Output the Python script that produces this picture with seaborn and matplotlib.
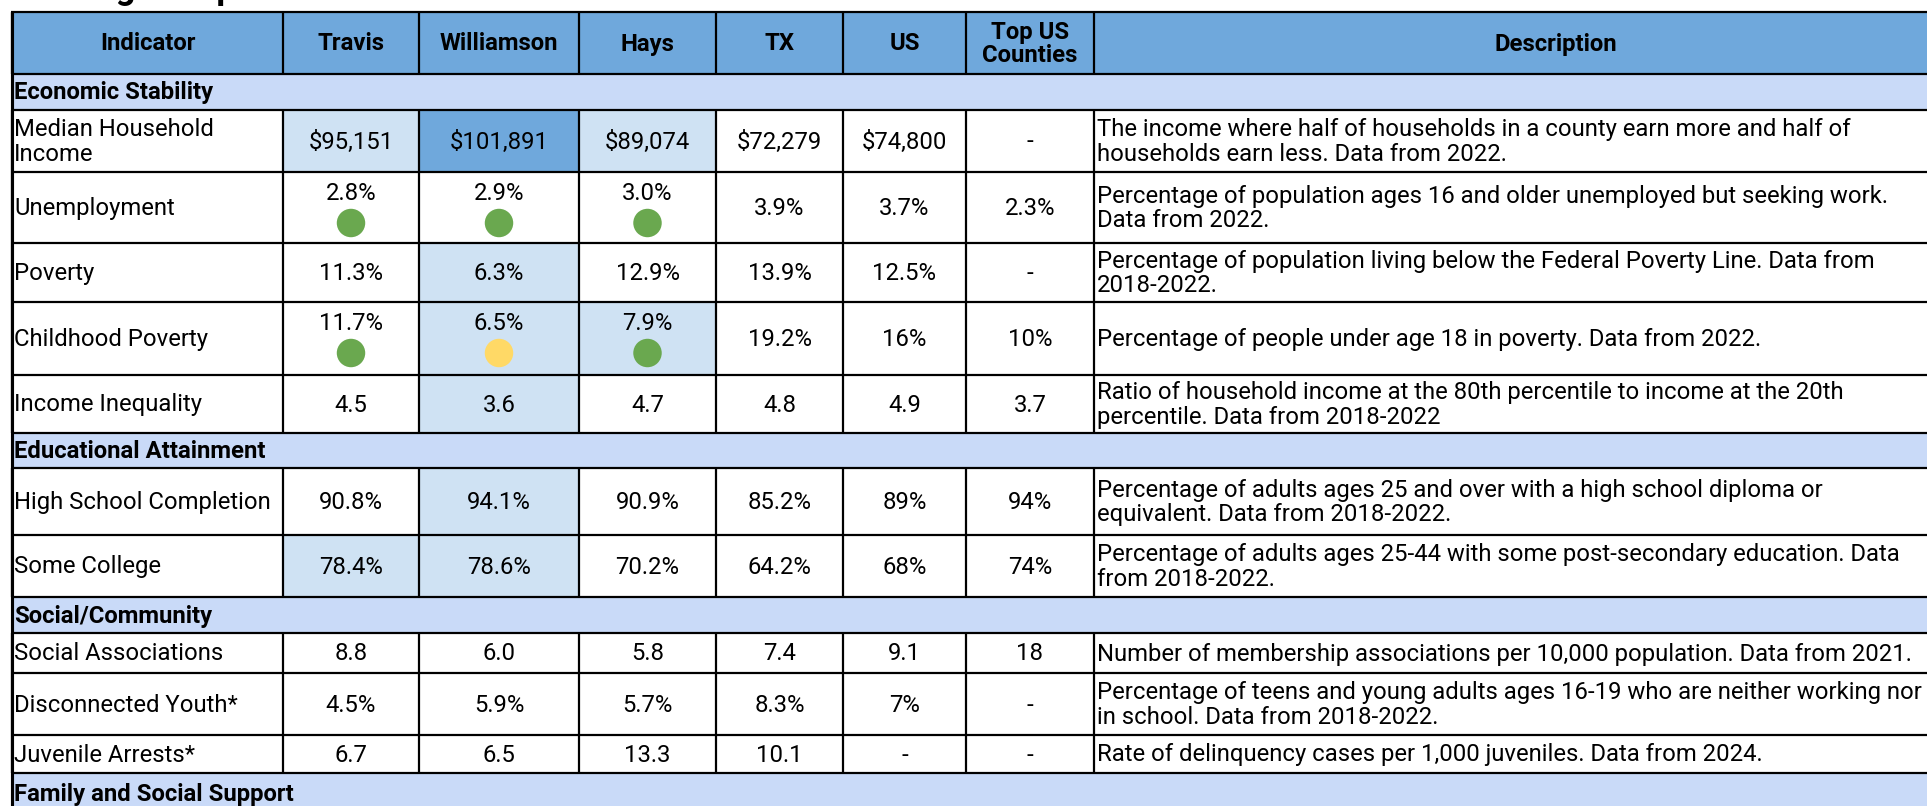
import matplotlib
matplotlib.use("Agg")
import matplotlib.pyplot as plt
from matplotlib.patches import Rectangle
import seaborn as sns
import pandas as pd

# ---------------- data ----------------
title = "Ranking Comparison"
columns = ["Indicator", "Travis", "Williamson", "Hays", "TX", "US", "Top US\nCounties", "Description"]
sections = ["Economic Stability", "Educational Attainment", "Social/Community", "Family and Social Support"]
indicators = ["Median Household\nIncome", "Unemployment", "Poverty", "Childhood Poverty", "Income Inequality",
              "High School Completion", "Some College",
              "Social Associations", "Disconnected Youth*", "Juvenile Arrests*"]
indicator_section = [0, 0, 0, 0, 0, 1, 1, 2, 2, 2]
travis = ["$95,151", "2.8%", "11.3%", "11.7%", "4.5", "90.8%", "78.4%", "8.8", "4.5%", "6.7"]
williamson = ["$101,891", "2.9%", "6.3%", "6.5%", "3.6", "94.1%", "78.6%", "6.0", "5.9%", "6.5"]
hays = ["$89,074", "3.0%", "12.9%", "7.9%", "4.7", "90.9%", "70.2%", "5.8", "5.7%", "13.3"]
tx = ["$72,279", "3.9%", "13.9%", "19.2%", "4.8", "85.2%", "64.2%", "7.4", "8.3%", "10.1"]
us = ["$74,800", "3.7%", "12.5%", "16%", "4.9", "89%", "68%", "9.1", "7%", "-"]
top_us = ["-", "2.3%", "-", "10%", "3.7", "94%", "74%", "18", "-", "-"]
descriptions = [
    "The income where half of households in a county earn more and half of\nhouseholds earn less. Data from 2022.",
    "Percentage of population ages 16 and older unemployed but seeking work.\nData from 2022.",
    "Percentage of population living below the Federal Poverty Line. Data from\n2018-2022.",
    "Percentage of people under age 18 in poverty. Data from 2022.",
    "Ratio of household income at the 80th percentile to income at the 20th\npercentile. Data from 2018-2022",
    "Percentage of adults ages 25 and over with a high school diploma or\nequivalent. Data from 2018-2022.",
    "Percentage of adults ages 25-44 with some post-secondary education. Data\nfrom 2018-2022.",
    "Number of membership associations per 10,000 population. Data from 2021.",
    "Percentage of teens and young adults ages 16-19 who are neither working nor\nin school. Data from 2018-2022.",
    "Rate of delinquency cases per 1,000 juveniles. Data from 2024.",
]
# highlight level per county cell: 0 none, 1 light, 2 strong
highlight_travis = [1, 0, 0, 0, 0, 0, 1, 0, 0, 0]
highlight_williamson = [2, 0, 1, 1, 1, 1, 1, 0, 0, 0]
highlight_hays = [1, 0, 0, 1, 0, 0, 0, 0, 0, 0]
# status dots
dot_indicator = ["Unemployment", "Unemployment", "Unemployment",
                 "Childhood Poverty", "Childhood Poverty", "Childhood Poverty"]
dot_county = ["Travis", "Williamson", "Hays", "Travis", "Williamson", "Hays"]
dot_status = ["good", "good", "good", "good", "fair", "good"]

# ---------------- layout / style ----------------
W, H = 1927, 806
col_edges = [12, 283, 419, 579, 716, 843, 966, 1094, 1990]
header_h = 62
section_h = [36, 35, 36, 40]
indicator_h = [62, 71, 59, 73, 58, 67, 62, 40, 62, 38]
HEADER_BG = "#6fa8dc"
SECTION_BG = "#c9daf8"
LIGHT_BG = "#cfe2f3"
STRONG_BG = "#6fa8dc"
DOT_COLORS = {"good": "#6aa84f", "fair": "#ffd966"}
FS = 17.2
LW = 1.6
LS = 1.06

sns.set_theme(style="white")
plt.rcParams["font.family"] = ["Roboto", "DejaVu Sans"]

fig = plt.figure(figsize=(W / 100, H / 100), dpi=100)
ax = fig.add_axes([0, 0, 1, 1])

# build row list
rows = [("header", None, header_h)]
for s_idx, s_name in enumerate(sections):
    rows.append(("section", s_idx, section_h[s_idx]))
    for i, sec in enumerate(indicator_section):
        if sec == s_idx:
            rows.append(("ind", i, indicator_h[i]))

values_by_col = [travis, williamson, hays, tx, us, top_us]
highlights = [highlight_travis, highlight_williamson, highlight_hays]
dot_rows = set(dot_indicator)

y = 12
row_tops = {}
hlines = []
for kind, idx, h in rows:
    top, bot = y, y + h
    hlines.append(top)
    if kind == "header":
        ax.add_patch(Rectangle((col_edges[0], top), col_edges[-1] - col_edges[0], h,
                               facecolor=HEADER_BG, edgecolor="none"))
        for c, name in enumerate(columns):
            cx = (col_edges[c] + col_edges[c + 1]) / 2
            if c == 7:
                cx = (col_edges[7] + 1927 + 90) / 2
            ax.text(cx, (top + bot) / 2 + 1, name, ha="center", va="center", fontsize=FS,
                    fontweight="bold", linespacing=1.0, color="black")
        for xe in col_edges:
            ax.plot([xe, xe], [top, bot], color="black", lw=LW, solid_capstyle="butt")
    elif kind == "section":
        ax.add_patch(Rectangle((col_edges[0], top), col_edges[-1] - col_edges[0], h,
                               facecolor=SECTION_BG, edgecolor="none"))
        ax.text(col_edges[0] + 2, (top + bot) / 2 + 1, sections[idx], ha="left", va="center",
                fontsize=FS, fontweight="bold", color="black")
        ax.plot([col_edges[0], col_edges[0]], [top, bot], color="black", lw=LW * 1.3,
                solid_capstyle="butt")
    else:
        row_tops[indicators[idx]] = top
        for c in range(3):
            lvl = highlights[c][idx]
            if lvl:
                ax.add_patch(Rectangle((col_edges[c + 1], top), col_edges[c + 2] - col_edges[c + 1], h,
                                       facecolor=LIGHT_BG if lvl == 1 else STRONG_BG, edgecolor="none"))
        ax.text(col_edges[0] + 2, (top + bot) / 2 + 1, indicators[idx], ha="left", va="center",
                fontsize=FS, linespacing=LS, color="black")
        has_dot = indicators[idx] in dot_rows
        for c in range(6):
            cx = (col_edges[c + 1] + col_edges[c + 2]) / 2
            ty = top + 22 if (has_dot and c < 3) else (top + bot) / 2 + 1
            ax.text(cx, ty, values_by_col[c][idx], ha="center", va="center", fontsize=FS,
                    color="black")
        ax.text(col_edges[7] + 3, (top + bot) / 2 + 1, descriptions[idx], ha="left", va="center",
                fontsize=FS, linespacing=LS, color="black")
        for xe in col_edges:
            ax.plot([xe, xe], [top, bot], color="black", lw=LW, solid_capstyle="butt")
    y = bot
hlines.append(y)

for yy in hlines:
    ax.plot([col_edges[0] - 1, col_edges[-1]], [yy, yy], color="black", lw=LW, solid_capstyle="butt")
ax.plot([col_edges[0], col_edges[0]], [12, y], color="black", lw=LW * 1.4, solid_capstyle="butt")

# status dots through seaborn
col_index = {name: i for i, name in enumerate(columns)}
dot_df = pd.DataFrame({
    "x": [(col_edges[col_index[c]] + col_edges[col_index[c] + 1]) / 2 for c in dot_county],
    "y": [row_tops[r] + 51 for r in dot_indicator],
    "status": dot_status,
})
sns.scatterplot(data=dot_df, x="x", y="y", hue="status", palette=DOT_COLORS, s=420,
                edgecolor="none", legend=False, ax=ax, zorder=5)

# title, almost entirely above the visible area as in the reference crop
ax.text(8, -0.5, title, ha="left", va="baseline", fontsize=25, fontweight="bold", color="black")

ax.set_xlim(0, W)
ax.set_ylim(H, 0)
ax.axis("off")
fig.savefig("out.png", dpi=100, facecolor="white")
